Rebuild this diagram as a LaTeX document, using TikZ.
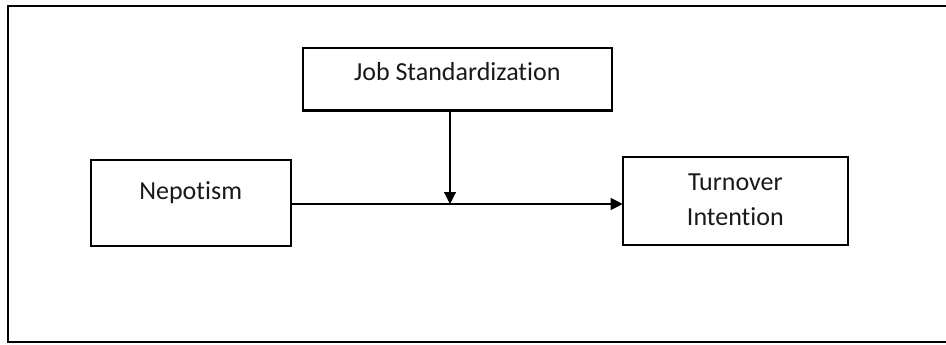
\documentclass[tikz,border=0pt]{standalone}
\usepackage{fontspec}
\setmainfont[Ligatures={NoCommon,NoContextual}]{Carlito}
\usetikzlibrary{arrows.meta}
\definecolor{inktext}{gray}{0.1}
\tikzset{
  frameline/.style={line width=2.3pt, line cap=rect},
  varbox/.style={draw, line width=2.2pt, rectangle, inner sep=0pt, outer sep=0pt,
    anchor=north west, text=inktext, font=\fontsize{26}{35}\selectfont},
  link/.style={line width=1.2pt, -{Triangle[length=12pt,width=12pt]}}
}
\begin{document}
\begin{tikzpicture}[x=1pt, y=-1pt]
  \useasboundingbox (0,0) rectangle (946,345);
  % outer frame (right side runs past the page edge)
  \draw[frameline] (950,6) -- (8.3,6) -- (8.3,342) -- (950,342);

  % variables
  \node[varbox, minimum width=309.4pt, minimum height=62.5pt,
        text height=32.7pt, text depth=29.8pt] (job) at (302.6,48) {Job Standardization};
  \node[varbox, minimum width=200pt, minimum height=86pt,
        text height=39pt, text depth=47pt] (nep) at (90.7,160) {Nepotism};
  \node[varbox, minimum width=225.3pt, minimum height=88.3pt,
        text height=33.3pt, text depth=55pt] (turn) at (622.7,156.7)
        {\begin{tabular}[t]{@{}c@{}}Turnover\\Intention\end{tabular}};

  % main path and moderating effect
  \coordinate (meet) at (450,204);
  \draw[link] (nep.east |- meet) -- (turn.west |- meet);
  \draw[link] (job.south -| meet) -- (meet);
\end{tikzpicture}
\end{document}
